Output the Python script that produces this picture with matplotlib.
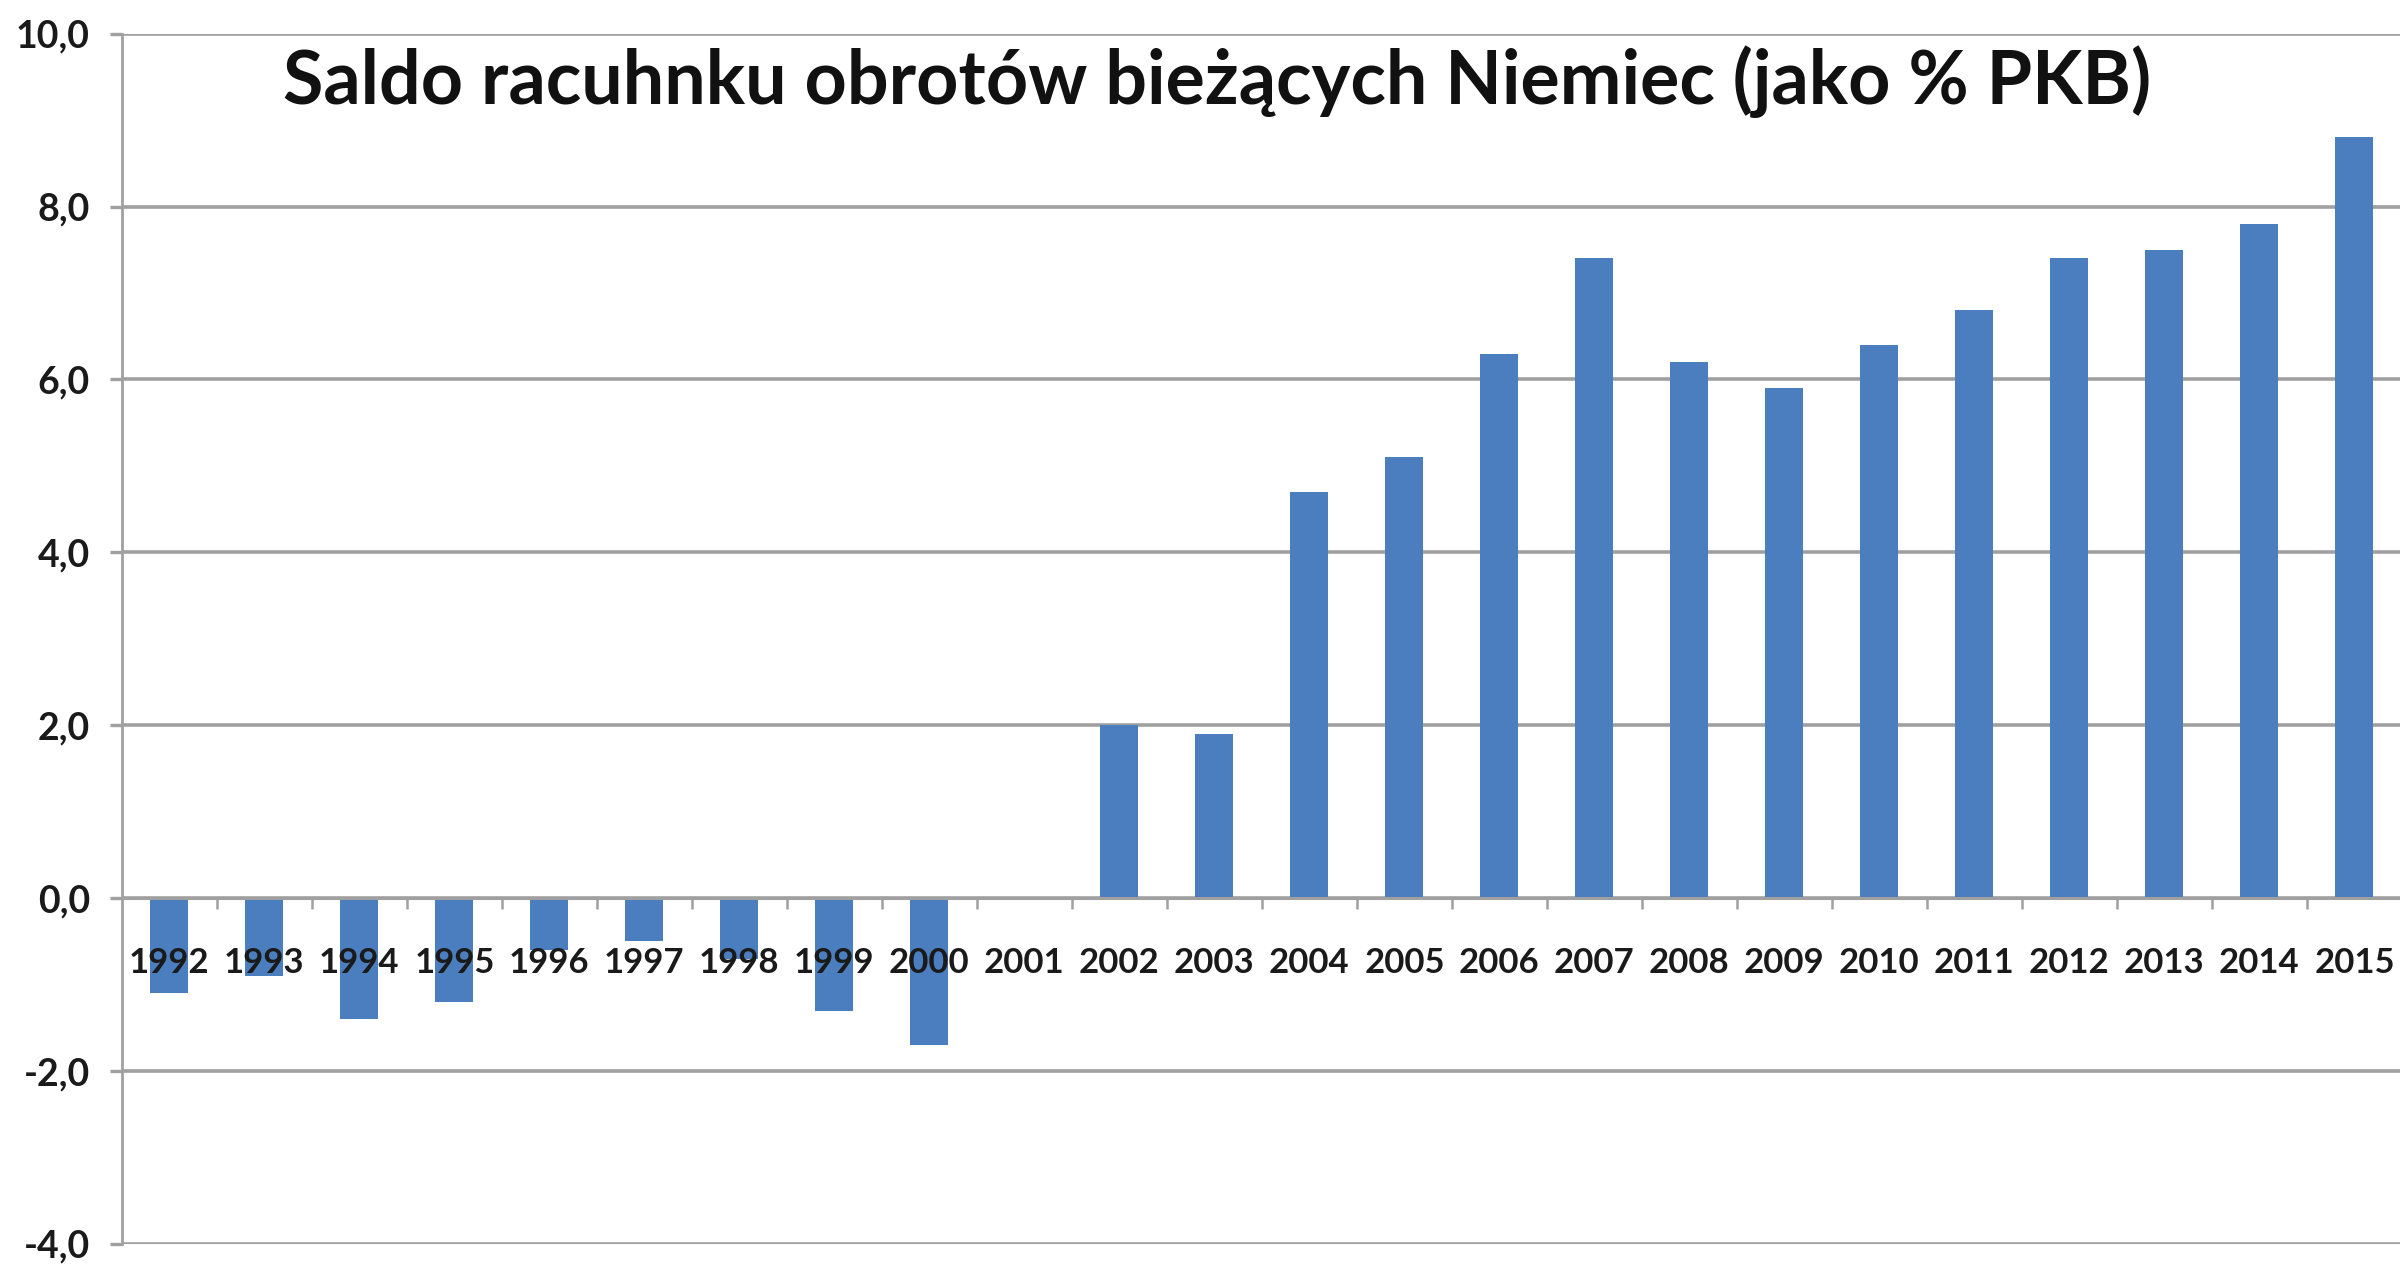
import matplotlib.pyplot as plt
from matplotlib.ticker import FixedLocator, FuncFormatter

lata = ['1992', '1993', '1994', '1995', '1996', '1997', '1998', '1999', '2000', '2001',
        '2002', '2003', '2004', '2005', '2006', '2007', '2008', '2009', '2010', '2011',
        '2012', '2013', '2014', '2015']
saldo = [-1.1, -0.9, -1.4, -1.2, -0.6, -0.5, -0.7, -1.3, -1.7, 0.0,
         2.0, 1.9, 4.7, 5.1, 6.3, 7.4, 6.2, 5.9, 6.4, 6.8,
         7.4, 7.5, 7.8, 8.8]
os_y = [-4, -2, 0, 2, 4, 6, 8, 10]

tytul = 'Saldo racuhnku obrotów bieżących Niemiec (jako % PKB)'
kolor_slupka = '#4A7EBE'
szary = '#A0A0A0'

plt.rcParams['font.family'] = ['Lato', 'DejaVu Sans']

fig = plt.figure(figsize=(24, 12.67), dpi=100)
ax = fig.add_axes([0.0508, 0.0182, 0.95, 0.9552])

x = list(range(len(lata)))
ax.bar(x, saldo, width=0.4, color=kolor_slupka, zorder=3)

ax.set_xlim(-0.5, len(lata) - 0.5)
ax.set_ylim(-4, 10)

# siatka pozioma pod slupkami
ax.set_yticks(os_y)
ax.yaxis.set_major_formatter(FuncFormatter(lambda v, p: f'{v:.1f}'.replace('.', ',')))
ax.grid(axis='y', color=szary, linewidth=2.6)
ax.grid(axis='x', visible=False)
ax.yaxis.set_zorder(0.5)
# etykiety lat nad slupkami
ax.xaxis.set_zorder(5)

# os x przecina w zerze
ax.spines['bottom'].set_position(('data', 0))
ax.spines['bottom'].set_color(szary)
ax.spines['bottom'].set_linewidth(2.2)
ax.spines['bottom'].set_zorder(4)
ax.spines['left'].set_color(szary)
ax.spines['left'].set_linewidth(2.0)
ax.spines['top'].set_visible(False)
ax.spines['right'].set_visible(False)

ax.set_xticks(x)
ax.set_xticklabels(lata)
ax.xaxis.set_minor_locator(FixedLocator([i + 0.5 for i in x]))
ax.tick_params(axis='x', which='major', length=0, pad=35, labelsize=25)
ax.tick_params(axis='x', which='minor', length=8, width=1.8, color=szary, direction='out')
ax.tick_params(axis='y', length=9, width=2.4, color=szary, pad=14, labelsize=27)
for t in ax.get_xticklabels() + ax.get_yticklabels():
    t.set_fontweight('bold')
    t.set_color('#1A1A1A')

fig.text(0.507, 0.918, tytul, ha='center', va='baseline',
         fontsize=53, fontweight='bold', color='#111111')

fig.savefig('out.png', dpi=100)
